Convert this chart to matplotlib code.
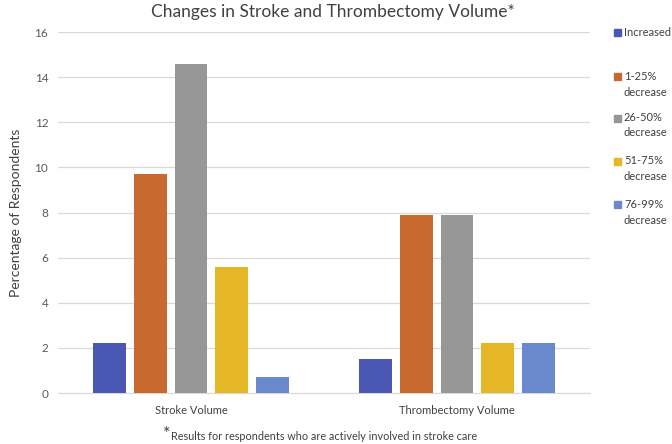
import numpy as np
import matplotlib
matplotlib.use('Agg')
import matplotlib.pyplot as plt
from matplotlib.patches import Rectangle

plt.rcParams['font.family'] = ['Lato', 'DejaVu Sans']

categories = ['Stroke Volume', 'Thrombectomy Volume']
series_names = ['Increased', '1-25%\ndecrease', '26-50%\ndecrease', '51-75%\ndecrease', '76-99%\ndecrease']
increased = [2.2, 1.5]
dec_1_25 = [9.7, 7.9]
dec_26_50 = [14.6, 7.9]
dec_51_75 = [5.6, 2.2]
dec_76_99 = [0.7, 2.2]
yticks = [0, 2, 4, 6, 8, 10, 12, 14, 16]

colors = ['#4A58B4', '#C86A30', '#979797', '#E5B727', '#6A88CC']
series = [increased, dec_1_25, dec_26_50, dec_51_75, dec_76_99]

fig = plt.figure(figsize=(6.72, 4.44), dpi=100)
ax = fig.add_axes([58 / 672, 1 - 393 / 444, (590 - 58) / 672, (393 - 32) / 444])

x = np.arange(len(categories))
step = 0.154
width = 0.124
for i, (vals, c) in enumerate(zip(series, colors)):
    ax.bar(x + (i - 2) * step, vals, width, color=c, edgecolor='none', zorder=3)

ax.set_xlim(-0.5, 1.5)
ax.set_ylim(0, 16)
ax.set_yticks(yticks)
ax.set_xticks(x)
ax.set_xticklabels(categories, fontsize=8, color='#404040')
ax.tick_params(axis='y', labelsize=8.5, labelcolor='#595959', length=0, pad=7)
ax.tick_params(axis='x', length=0, pad=9)
ax.grid(axis='y', color='#D9D9D9', linewidth=0.9, zorder=0)
for s in ['top', 'right', 'left']:
    ax.spines[s].set_visible(False)
ax.spines['bottom'].set_color('#D9D9D9')
ax.set_ylabel('Percentage of Respondents', fontsize=10, color='#404040', labelpad=9)

fig.text(333 / 672, 1 - 12 / 444, 'Changes in Stroke and Thrombectomy Volume*',
         ha='center', va='center', fontsize=12.5, color='#404040')

# footnote
fig.text(170 / 672, 1 - 434 / 444, '*', ha='right', va='center', fontsize=13, color='#404040')
fig.text(171 / 672, 1 - 436 / 444, 'Results for respondents who are actively involved in stroke care',
         ha='left', va='center', fontsize=7.8, color='#404040')

# legend
leg_y = [33, 77, 118, 161, 205]
for name, c, yy in zip(series_names, colors, leg_y):
    fig.patches.append(Rectangle((614 / 672, 1 - (yy + 3.5) / 444), 7 / 672, 7 / 444,
                                 transform=fig.transFigure, color=c, figure=fig))
    fig.text(624 / 672, 1 - (yy - 6) / 444, name, ha='left', va='top', fontsize=8,
             color='#404040', linespacing=1.5)

fig.savefig('out.png', dpi=100)
